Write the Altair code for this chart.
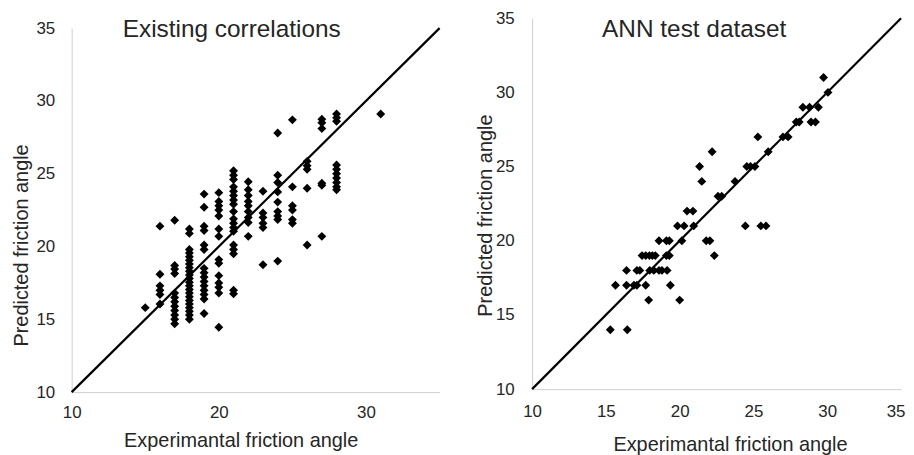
import altair as alt
import pandas as pd

# ---------------- data ----------------
# Left panel "Existing correlations": experimental angle -> list of predicted angles
left_columns = [15, 16, 17, 18, 19, 20, 21, 22, 23, 24, 25, 26, 27, 28, 31]
left_predicted = [
    [15.8],
    [21.4, 18.1, 17.3, 17.0, 16.7, 16.05],
    [21.8, 18.7, 18.45, 18.15, 16.8, 16.5, 16.2, 15.9, 15.6, 15.3, 15.0, 14.7],
    [21.2, 20.9, 19.8, 19.55, 19.3, 19.05, 18.8, 18.55, 18.3, 18.05, 17.8, 17.55,
     17.3, 17.05, 16.8, 16.55, 16.3, 16.05, 15.8, 15.55, 15.3, 15.0],
    [23.6, 22.7, 21.4, 21.1, 20.1, 19.8, 18.5, 18.2, 17.9, 17.6, 17.3, 17.0, 16.7, 16.4, 15.4],
    [23.7, 23.1, 22.8, 22.5, 22.1, 21.2, 20.7, 19.1, 18.85, 18.0, 17.5, 17.2, 16.8, 14.45],
    [25.2, 24.9, 24.6, 24.1, 23.8, 23.5, 23.2, 22.9, 22.4, 21.9, 21.6, 21.3, 21.05,
     20.1, 19.8, 19.5, 17.0, 16.75],
    [24.45, 23.9, 23.5, 23.1, 22.8, 22.4, 22.0, 21.65, 20.7],
    [23.8, 22.3, 22.0, 21.6, 21.3, 18.75],
    [27.8, 24.9, 24.4, 23.75, 23.05, 22.4, 22.1, 21.85, 19.0],
    [28.7, 24.1, 22.8, 22.5, 21.85, 21.6],
    [25.85, 25.55, 25.3, 24.0, 20.1],
    [28.75, 28.5, 28.1, 24.35, 24.2, 20.7],
    [29.1, 28.85, 28.6, 25.6, 25.3, 25.0, 24.7, 24.4, 24.1, 23.9],
    [29.1],
]

# Right panel "ANN test dataset"
right_exp = [15.3, 16.45,
             15.65, 16.4, 16.9, 17.1, 17.7, 19.37,
             17.9, 20.0,
             16.4, 17.1, 17.3, 17.97, 18.25, 18.6, 18.8, 19.15,
             17.45, 17.7, 17.95, 18.15, 18.35, 19.1, 19.3, 22.35,
             18.6, 19.1, 19.3, 20.15, 21.8, 22.05,
             19.85, 20.3, 20.95, 24.45, 25.5, 25.85,
             20.5, 20.9,
             22.6, 22.85,
             21.5, 23.75,
             21.35, 24.55, 24.8, 25.1,
             22.2, 26.0,
             25.3, 27.0, 27.35,
             27.9, 28.1, 28.9, 29.2,
             28.35, 28.8, 29.4,
             30.05,
             29.75]
right_pred = [14, 14,
              17, 17, 17, 17, 17, 17,
              16, 16,
              18, 18, 18, 18, 18, 18, 18, 18,
              19, 19, 19, 19, 19, 19, 19, 19,
              20, 20, 20, 20, 20, 20,
              21, 21, 21, 21, 21, 21,
              22, 22,
              23, 23,
              24, 24,
              25, 25, 25, 25,
              26, 26,
              27, 27, 27,
              28, 28, 28, 28,
              29, 29, 29,
              30,
              31]

line_ends = [10, 35]
left_x_ticks = [10, 20, 30]
right_x_ticks = [10, 15, 20, 25, 30, 35]
y_ticks = [10, 15, 20, 25, 30, 35]

titles = ["Existing correlations", "ANN test dataset"]
x_title = "Experimantal friction angle"
y_title = "Predicted friction angle"

# ---------------- tables ----------------
lx, ly = [], []
for xv, ys in zip(left_columns, left_predicted):
    for yv in ys:
        lx.append(xv)
        ly.append(yv)
left_df = pd.DataFrame({"x": lx, "y": ly})
right_df = pd.DataFrame({"x": right_exp, "y": right_pred})
diag_df = pd.DataFrame({"x": line_ends, "y": line_ends})

H = 376
FONT = "Liberation Sans"
TXT = "#262626"
AXC = "#d0d0d0"


def panel(df, width, yrange, xticks, title, title_x, xaxis_kw, yaxis_kw):
    xs = alt.Scale(domain=[10, 35], nice=False, zero=False)
    ys = alt.Scale(domain=[10, 35], nice=False, zero=False, range=yrange)
    xax = alt.Axis(values=xticks, title=x_title, labelFlush=False, **xaxis_kw)
    yax = alt.Axis(values=y_ticks, title=y_title, labelFlush=False, **yaxis_kw)
    pts = alt.Chart(df).mark_point(
        shape="diamond", filled=True, size=80, color="black", opacity=1
    ).encode(
        x=alt.X("x:Q", scale=xs, axis=xax),
        y=alt.Y("y:Q", scale=ys, axis=yax),
    )
    line = alt.Chart(diag_df).mark_line(color="black", strokeWidth=2.2).encode(
        x=alt.X("x:Q", scale=xs),
        y=alt.Y("y:Q", scale=ys),
    )
    ttl = alt.Chart(pd.DataFrame({"t": [title]})).mark_text(
        font=FONT, fontSize=24.5, color=TXT, align="center", baseline="alphabetic"
    ).encode(x=alt.value(title_x), y=alt.value(19), text="t:N")
    return alt.layer(line, pts, ttl).properties(width=width, height=H)


left = panel(
    left_df, 370, [H, 10], left_x_ticks, titles[0], 161,
    dict(labelPadding=13, titleX=170, titleY=55),
    dict(labelPadding=17, titleX=-44, titleY=228),
)
right = panel(
    right_df, 371, [H - 3, 0], right_x_ticks, titles[1], 163,
    dict(
        labelPadding=15, titleX=199, titleY=62, offset=-3,
        labelAlign={"condition": {"test": "datum.value == 35", "value": "right"}, "value": "center"},
        labelOffset={"condition": {"test": "datum.value == 35", "value": 4}, "value": 0},
    ),
    dict(labelPadding=18, titleX=-41, titleY=198),
)

chart = alt.hconcat(left, right, spacing=31).properties(
    padding={"left": 4, "top": 0, "right": 0, "bottom": 0},
    background="white",
).configure_view(stroke=None).configure_axis(
    grid=False,
    ticks=False,
    tickSize=0,
    domainColor=AXC,
    domainWidth=1,
    labelFont=FONT,
    labelFontSize=17,
    labelColor=TXT,
    titleFont=FONT,
    titleFontSize=20,
    titleFontWeight="normal",
    titleColor=TXT,
    titleBaseline="alphabetic",
    titleAlign="center",
)

chart.save("out.html", embed_options={"renderer": "svg", "actions": False})
